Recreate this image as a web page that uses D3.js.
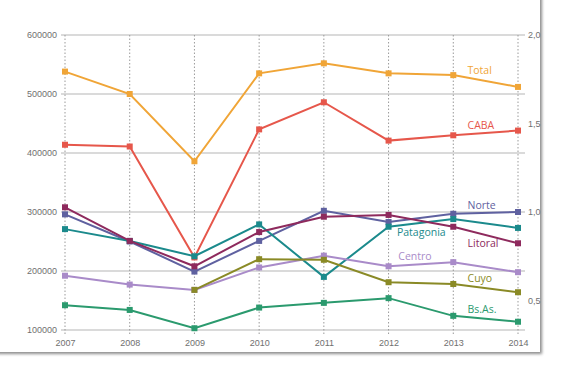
<!DOCTYPE html>
<html>
<head>
<meta charset="utf-8">
<script src="https://cdn.jsdelivr.net/npm/d3@7"></script>
<style>
body{margin:0;background:#fff;}
svg{font-family:"Open Sans","Noto Sans",sans-serif;}
</style>
</head>
<body>
<div id="chart"></div>
<script>
var years=[2007,2008,2009,2010,2011,2012,2013,2014]

var total=[538000,500000,386000,535000,552000,535000,532000,512000]
var caba=[414000,411000,223000,440000,486000,421000,430000,438000]
var litoral=[308000,251000,208000,266000,292000,295000,275000,247000]
var norte=[296000,250000,199000,251000,302000,283000,297000,300000]
var patagonia=[271000,251000,225000,279000,190000,275000,288000,273000]
var centro=[192000,177000,168000,206000,226000,208000,215000,198000]
var cuyo=[null,null,168000,220000,219000,181000,178000,164000]
var bsas=[142000,134000,103000,138000,146000,154000,124000,114000]

var leftTicks=[100000,200000,300000,400000,500000,600000]
var rightTicks=[0.5,1.0,1.5,2.0]

var series=[
    {name:"Total",values:total,color:"#f0a537",lx:2013.22,ly:538000},
    {name:"CABA",values:caba,color:"#e6574b",lx:2013.22,ly:446000},
    {name:"Norte",values:norte,color:"#5f61a0",lx:2013.22,ly:310000},
    {name:"Patagonia",values:patagonia,color:"#1b8a8c",lx:2012.13,ly:264000},
    {name:"Litoral",values:litoral,color:"#8e2a5d",lx:2013.22,ly:245000},
    {name:"Centro",values:centro,color:"#a98bc9",lx:2012.15,ly:224000},
    {name:"Cuyo",values:cuyo,color:"#8a8a26",lx:2013.22,ly:186500},
    {name:"Bs.As.",values:bsas,color:"#2b9a6e",lx:2013.22,ly:134000}
]

var svgWidth=570
var svgHeight=380

var svg=d3.select("#chart")
        .append("svg")
        .attr("width", svgWidth)
        .attr("height", svgHeight)

// panel with soft shadow
var defs=svg.append("defs")
var filter=defs.append("filter").attr("id","shadow").attr("x","-5%").attr("y","-5%").attr("width","110%").attr("height","110%")
filter.append("feDropShadow").attr("dx",2).attr("dy",2).attr("stdDeviation",1.6).attr("flood-color","#000").attr("flood-opacity",0.45)

svg.append("rect")
    .attr("x",-10).attr("y",-10)
    .attr("width",550).attr("height",362)
    .attr("fill","#fff")
    .attr("filter","url(#shadow)")

var xScale=d3.scaleLinear()
    .domain([2007,2014])
    .range([65,518])
var yScale=d3.scaleLinear()
    .domain([100000,600000])
    .range([330,35])
var yRight=d3.scaleLinear()
    .domain([100000/300000,2])
    .range([330,35])

// horizontal grid
svg.append("g").selectAll("line")
    .data(leftTicks)
    .enter()
    .append("line")
    .attr("x1",61).attr("x2",525)
    .attr("y1",d=>yScale(d)).attr("y2",d=>yScale(d))
    .attr("stroke","#b5b5b5")
    .attr("stroke-width",1.2)

// vertical dotted lines
svg.append("g").selectAll("line")
    .data(years)
    .enter()
    .append("line")
    .attr("x1",d=>xScale(d)).attr("x2",d=>xScale(d))
    .attr("y1",yScale(600000)).attr("y2",yScale(100000)+5)
    .attr("stroke","#9a9a9a")
    .attr("stroke-width",1)
    .attr("stroke-dasharray","1.5,2")

var leftAxis=d3.axisLeft(yScale).tickValues(leftTicks).tickFormat(d3.format("d")).tickSize(0).tickPadding(8)
var rightAxis=d3.axisRight(yRight).tickValues(rightTicks).tickFormat(d=>d3.format(".1f")(d).replace(".",",")).tickSize(0).tickPadding(10)
var bottomAxis=d3.axisBottom(xScale).tickValues(years).tickFormat(d3.format("d")).tickSize(0).tickPadding(10)

var gl=svg.append("g").attr("transform","translate(65,0)").call(leftAxis)
var gr=svg.append("g").attr("transform","translate(518,0)").call(rightAxis)
var gb=svg.append("g").attr("transform",`translate(0,${yScale(100000)})`).call(bottomAxis)
;[gl,gr,gb].forEach(g=>{
    g.select(".domain").remove()
    g.selectAll("text").attr("fill","#707070").attr("font-size",9)
})

var line=d3.line()
    .defined(d=>d.v!=null)
    .x(d=>xScale(d.year))
    .y(d=>yScale(d.v))

series.forEach(s=>{
    var pts=years.map((y,i)=>({year:y,v:s.values[i]}))
    svg.append("path")
        .datum(pts)
        .attr("d",line)
        .attr("fill","none")
        .attr("stroke",s.color)
        .attr("stroke-width",2)
    svg.append("g").selectAll("rect")
        .data(pts.filter(d=>d.v!=null))
        .enter()
        .append("rect")
        .attr("x",d=>xScale(d.year)-3)
        .attr("y",d=>yScale(d.v)-3)
        .attr("width",6)
        .attr("height",6)
        .attr("fill",s.color)
    svg.append("text")
        .attr("x",xScale(s.lx))
        .attr("y",yScale(s.ly))
        .attr("dominant-baseline","middle")
        .attr("font-size",10.5)
        .attr("fill",s.color)
        .text(s.name)
})
</script>
</body>
</html>
